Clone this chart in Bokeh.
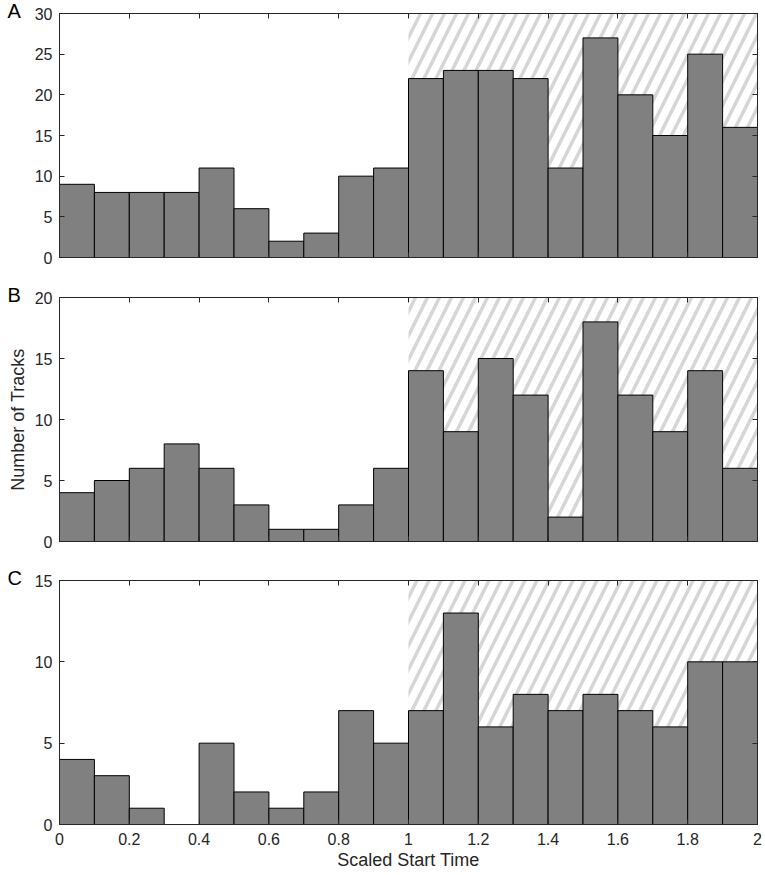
from bokeh.plotting import figure
from bokeh.layouts import column
from bokeh.models import Range1d, LinearAxis, FixedTicker, NumeralTickFormatter, Label
from bokeh.embed import file_html
from bokeh.resources import INLINE

# ---- data ----
bin_edges = [0.0, 0.1, 0.2, 0.3, 0.4, 0.5, 0.6, 0.7, 0.8, 0.9, 1.0,
             1.1, 1.2, 1.3, 1.4, 1.5, 1.6, 1.7, 1.8, 1.9, 2.0]
counts_a = [9, 8, 8, 8, 11, 6, 2, 3, 10, 11, 22, 23, 23, 22, 11, 27, 20, 15, 25, 16]
counts_b = [4, 5, 6, 8, 6, 3, 1, 1, 3, 6, 14, 9, 15, 12, 2, 18, 12, 9, 14, 6]
counts_c = [4, 3, 1, 0, 5, 2, 1, 2, 7, 5, 7, 13, 6, 8, 7, 8, 7, 6, 10, 10]
panel_labels = ["A", "B", "C"]
y_max = [30, 20, 15]
y_ticks = [[0, 5, 10, 15, 20, 25, 30], [0, 5, 10, 15, 20], [0, 5, 10, 15]]
x_ticks = [0, 0.2, 0.4, 0.6, 0.8, 1, 1.2, 1.4, 1.6, 1.8, 2]
shaded_start, shaded_end = 1.0, 2.0
x_label = "Scaled Start Time"
y_label = "Number of Tracks"

FONT = "Liberation Sans"
AXIS_COLOR = "#262626"
FRAME_W, FRAME_H = 698, 244
LEFT_B, RIGHT_B = 59, 8
PX_PER_X = FRAME_W / 2.0


def style_axis(ax, labels=True, standoff=7):
    ax.major_tick_in = 5
    ax.major_tick_out = 0
    ax.minor_tick_in = 0
    ax.minor_tick_out = 0
    ax.axis_line_color = AXIS_COLOR
    ax.major_tick_line_color = AXIS_COLOR
    ax.major_label_text_font = FONT
    ax.major_label_text_font_size = "16px"
    if labels:
        ax.major_label_text_color = "#262626"
        ax.major_label_standoff = standoff
    else:
        ax.major_label_text_color = None
        ax.major_label_standoff = 0


figs = []
all_counts = [counts_a, counts_b, counts_c]
borders = [(13, 17), (23, 19), (20, 50)]
label_side = ["left", "above", "left"]
for i, counts in enumerate(all_counts):
    top_b, bot_b = borders[i]
    p = figure(width=LEFT_B + FRAME_W + RIGHT_B, height=top_b + FRAME_H + bot_b,
               x_range=Range1d(0, 2), y_range=Range1d(0, y_max[i]),
               output_backend="svg", toolbar_location=None,
               min_border_left=LEFT_B, min_border_right=RIGHT_B,
               min_border_top=top_b, min_border_bottom=bot_b,
               x_axis_location=None, y_axis_location=None)
    p.grid.visible = False
    p.outline_line_color = AXIS_COLOR

    # hatched region
    p.quad(left=[shaded_start], right=[shaded_end], bottom=[0], top=[y_max[i]],
           fill_color="white", fill_alpha=0, line_color=None,
           hatch_pattern="/", hatch_color="#d6d6d6", hatch_scale=24, hatch_weight=3.5)

    p.quad(left=bin_edges[:-1], right=bin_edges[1:], bottom=0, top=counts,
           fill_color="#808080", line_color="black", line_width=1)

    xticker = FixedTicker(ticks=x_ticks)
    yticker = FixedTicker(ticks=y_ticks[i])

    bottom = LinearAxis(ticker=xticker, formatter=NumeralTickFormatter(format="0.[0]"))
    style_axis(bottom, labels=(i == 2), standoff=8)
    if i == 2:
        bottom.axis_label = x_label
        bottom.axis_label_text_font = FONT
        bottom.axis_label_text_font_size = "18px"
        bottom.axis_label_text_font_style = "normal"
        bottom.axis_label_text_color = "#262626"
        bottom.axis_label_standoff = 2
    p.add_layout(bottom, "below")

    top = LinearAxis(ticker=xticker)
    style_axis(top, labels=False)
    p.add_layout(top, "above")

    left = LinearAxis(ticker=yticker)
    style_axis(left, standoff=7)
    if i == 1:
        left.axis_label = y_label
        left.axis_label_text_font = FONT
        left.axis_label_text_font_size = "18px"
        left.axis_label_text_font_style = "normal"
        left.axis_label_text_color = "#262626"
        left.axis_label_standoff = 4
    p.add_layout(left, "left")

    right = LinearAxis(ticker=yticker)
    style_axis(right, labels=False)
    p.add_layout(right, "right")

    lab = Label(x=-52 / PX_PER_X, y=y_max[i], x_units="data", y_units="data",
                y_offset=3,
                text=panel_labels[i], text_font=FONT, text_font_size="20px",
                text_baseline="middle", text_align="left", text_color="black")
    p.add_layout(lab, label_side[i])
    figs.append(p)

layout = column(*figs, spacing=0)
open("out.html", "w").write(file_html(layout, INLINE))
